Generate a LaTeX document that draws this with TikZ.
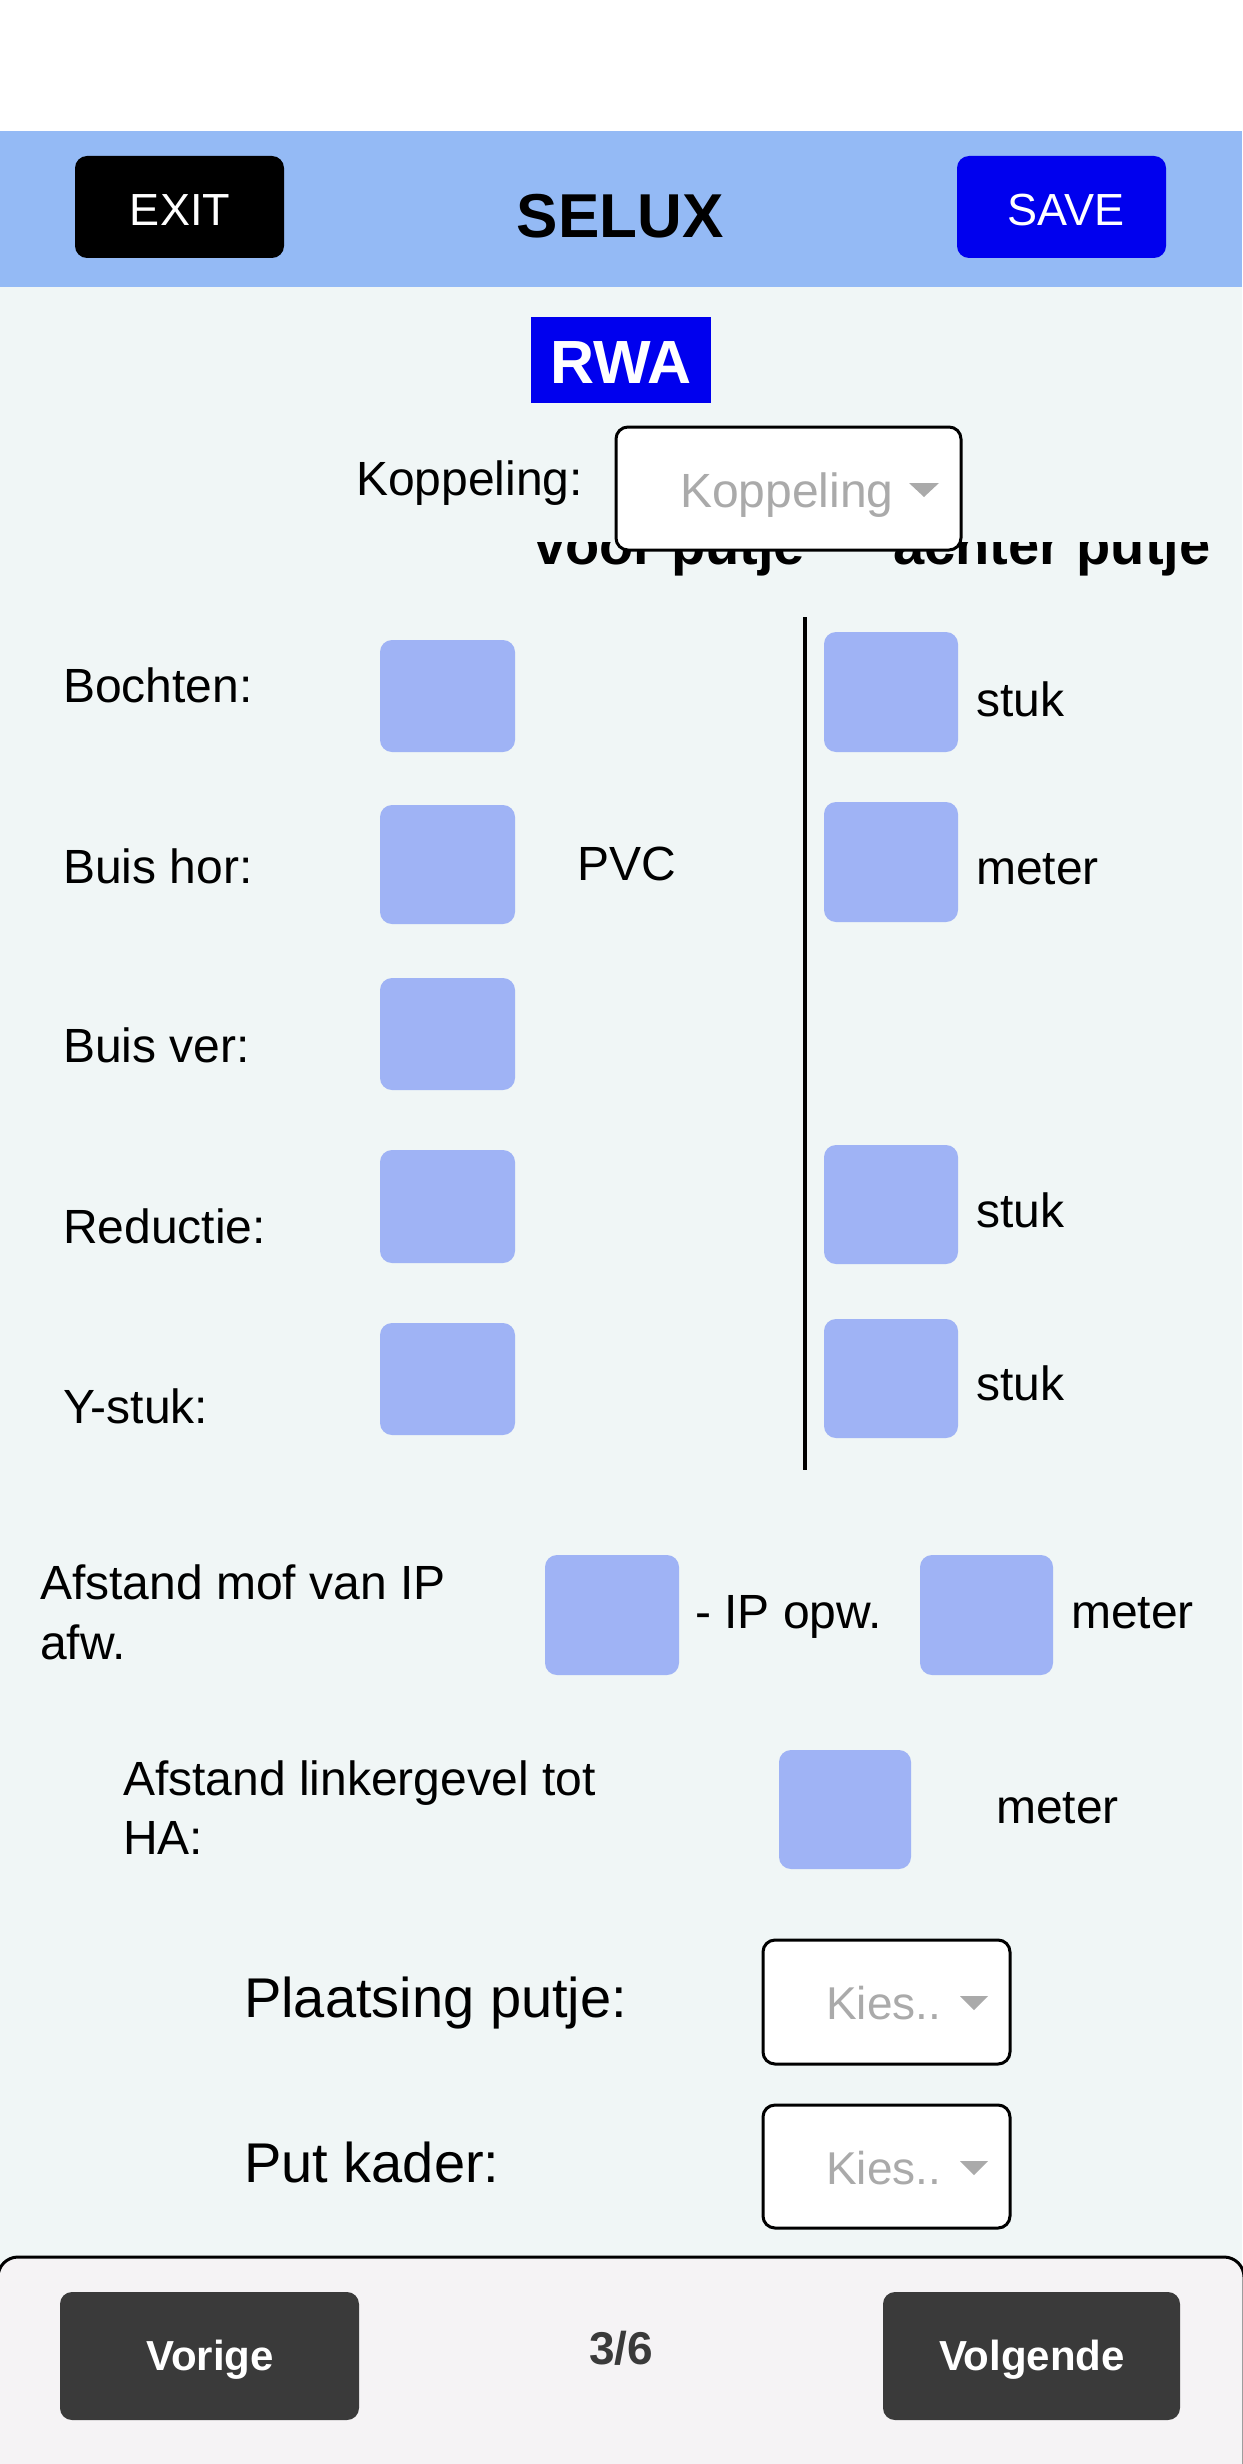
\documentclass[tikz,border=0pt]{standalone}
\usepackage{fontspec}
\setmainfont{Liberation Sans}

\definecolor{hdrblue}{RGB}{148,186,245}
\definecolor{bodybg}{RGB}{240,246,246}
\definecolor{inblue}{RGB}{159,179,245}
\definecolor{saveblue}{RGB}{0,0,238}
\definecolor{footgray}{RGB}{245,243,245}
\definecolor{btngray}{RGB}{58,58,58}
\definecolor{hintgray}{RGB}{170,170,170}

\tikzset{
	txt/.style={anchor=base west, inner sep=0pt, font=\fontsize{48}{58}\selectfont},
	bigtxt/.style={anchor=base west, inner sep=0pt, font=\fontsize{56}{66}\selectfont},
	ctxt/.style={anchor=base, inner sep=0pt},
	inbox/.style={fill=inblue, rounded corners=12pt},
	selbox/.style={fill=white, draw=black, line width=3pt, rounded corners=12pt},
	btnbox/.style={rounded corners=12pt}
}

\begin{document}
\begin{tikzpicture}[x=1pt, y=-1pt]
\useasboundingbox (0, 0) rectangle (1242, 2464);

% backgrounds
\fill[white] (0, 0) rectangle (1242, 131);
\fill[hdrblue] (0, 131) rectangle (1242, 287);
\fill[bodybg] (0, 287) rectangle (1242, 2464);

% header
\fill[btnbox, black] (75, 156) rectangle (284, 258);
\fill[btnbox, saveblue] (957, 156) rectangle (1166, 258);
\node[ctxt, white, font=\fontsize{45}{52}\selectfont] (exit) at (180, 226) {EXIT};
\node[ctxt, white, font=\fontsize{45}{52}\selectfont] (save) at (1066, 226) {SAVE};
\node[ctxt, font=\bfseries\fontsize{62}{72}\selectfont] (title) at (620, 238) {SELUX};

% RWA
\fill[saveblue] (531, 317) rectangle (711, 403);
\node[ctxt, white, font=\bfseries\fontsize{61}{70}\selectfont] (rwa) at (621, 383) {RWA};

% column heads, cut off at the top
\begin{scope}
	\clip (0, 542) rectangle (1242, 600);
	\node[bigtxt, font=\bfseries\fontsize{56}{66}\selectfont] (voor) at (534, 564) {voor putje};
	\node[bigtxt, font=\bfseries\fontsize{56}{66}\selectfont] (achter) at (893, 564) {achter putje};
\end{scope}

% koppeling
\node[txt] (koppeling) at (356, 495) {Koppeling:};
\draw[selbox] (616, 427) rectangle (961, 550);
\node[txt, hintgray] (kophint) at (680, 507) {Koppeling};
\fill[hintgray] (909, 483) -- (939, 483) -- (924, 497) -- cycle;

% divider
\draw[line width=4pt] (805, 617) -- (805, 1470);

% left column
\node[txt] (bochten) at (63, 702) {Bochten:};
\node[txt] (buishor) at (63, 883) {Buis hor:};
\node[txt] (buisver) at (63, 1062) {Buis ver:};
\node[txt] (reductie) at (63, 1243) {Reductie:};
\node[txt] (ystuk) at (63, 1423) {Y-stuk:};

\foreach \t/\b in {640/752, 805/924, 978/1090, 1150/1263, 1323/1435}
	\fill[inbox] (380, \t) rectangle (515, \b);

\node[txt] (pvc) at (577, 880) {PVC};

% right column
\foreach \t/\b in {632/752, 802/922, 1145/1264, 1319/1438}
	\fill[inbox] (824, \t) rectangle (958, \b);

\node[txt] (stuka) at (976, 716) {stuk};
\node[txt] (metera) at (976, 884) {meter};
\node[txt] (stukb) at (976, 1227) {stuk};
\node[txt] (stukc) at (976, 1400) {stuk};

% distances
\node[txt] (mofa) at (40, 1599) {Afstand mof van IP};
\node[txt] (mofb) at (40, 1659) {afw.};
\fill[inbox] (545, 1555) rectangle (679, 1675);
\node[txt] (opw) at (695, 1628) {- IP opw.};
\fill[inbox] (920, 1555) rectangle (1053, 1675);
\node[txt] (meterb) at (1071, 1628) {meter};

\node[txt] (gevela) at (123, 1795) {Afstand linkergevel tot};
\node[txt] (gevelb) at (123, 1854) {HA:};
\fill[inbox] (779, 1750) rectangle (911, 1869);
\node[txt] (meterc) at (996, 1823) {meter};

% selections
\node[bigtxt] (plaatsing) at (244, 2017) {Plaatsing putje:};
\node[bigtxt] (kader) at (244, 2182) {Put kader:};
\foreach \t/\b/\y in {1940/2064/2019, 2105/2228/2184} {
	\draw[selbox] (763, \t) rectangle (1010, \b);
	\node[txt, hintgray, font=\fontsize{46}{56}\selectfont] at (826, \y) {Kies..};
	\fill[hintgray] (960, \y - 23) -- (988, \y - 23) -- (974, \y - 9) -- cycle;
}

% footer
\draw[fill=footgray, line width=3pt, rounded corners=20pt] (-2, 2257) rectangle (1244, 2520);
\fill[btnbox, btngray] (60, 2292) rectangle (359, 2420);
\fill[btnbox, btngray] (883, 2292) rectangle (1180, 2420);
\node[ctxt, white, font=\bfseries\fontsize{42}{50}\selectfont] (vorige) at (210, 2370) {Vorige};
\node[ctxt, btngray, font=\bfseries\fontsize{46}{54}\selectfont] (page) at (621, 2364) {3/6};
\node[ctxt, white, font=\bfseries\fontsize{42}{50}\selectfont] (volgende) at (1032, 2370) {Volgende};
\end{tikzpicture}
\end{document}
